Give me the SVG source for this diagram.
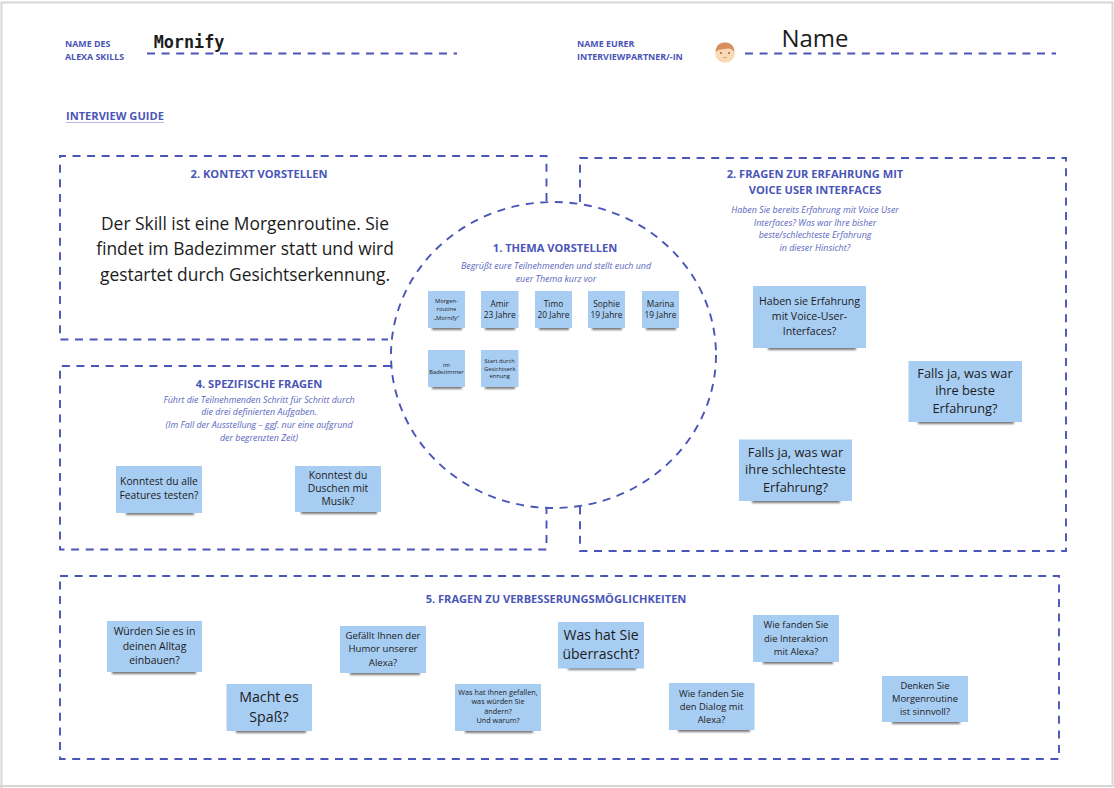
<svg xmlns="http://www.w3.org/2000/svg" width="1114" height="788" viewBox="0 0 1114 788">
<style>
text{font-family:"Open Sans","Noto Sans",sans-serif;text-anchor:middle}
.lbl{font-weight:700;font-size:8.9px;fill:#4a55b8;text-anchor:start}
.h{font-weight:700;font-size:11.1px;fill:#4a55b8}
.i{font-style:italic;font-size:8.9px;fill:#5b66c0}
.d{fill:none;stroke:#4a55b8;stroke-width:1.9;stroke-dasharray:8 6.6}
.s{fill:#a8cdf3}
.sh{fill:#333;filter:url(#b);opacity:.65}
.t{fill:#1c1c1c}
.t6{font-size:5.8px}.t7{font-size:7.3px}.t8{font-size:8.4px}.t10{font-size:10.3px}.t105{font-size:10.6px}.t12{font-size:12.8px}.t14{font-size:14.2px}
</style>
<defs><filter id="b" x="-20%" y="-100%" width="140%" height="300%"><feGaussianBlur stdDeviation="1.3"/></filter></defs>
<rect width="1114" height="788" fill="#fff"/>
<path d="M1.500 788V2.500H1112.500V786H0" fill="none" stroke="#d6d6d6" stroke-width="2"/>
<g id="outlines">
<path class="d" d="M546.500 201V156H60V339.500H388"/>
<path class="d" d="M391 366H60V549.500H546.500V507"/>
<path class="d" d="M580 202V158H1066V551H580V507"/>
<rect class="d" x="60" y="576" width="999" height="183"/>
<ellipse class="d" cx="553.500" cy="355" rx="162.500" ry="153"/>
<path class="d" d="M147 53.500H457"/>
<path class="d" d="M745 53.500H1056"/>
</g>
<g id="header-skill">
<text class="lbl" x="65" y="47">NAME DES</text>
<text class="lbl" x="65" y="60">ALEXA SKILLS</text>
<text x="189" y="48" style="font-family:'DejaVu Sans Mono',monospace;font-weight:700;font-size:16.800px" fill="#1c1c1c">Mornify</text>
</g>
<g id="header-partner">
<text class="lbl" x="577" y="47">NAME EURER</text>
<text class="lbl" x="577" y="60">INTERVIEWPARTNER/-IN</text>
<circle cx="725" cy="53" r="9.800" fill="#fbd9b5"/>
<path d="M715.600 52C716 45 720 42.600 725 42.600S734 45 734.400 52C732 49 730 48 727.500 48.500C723 49.500 719 49 715.600 52Z" fill="#d98f5c"/>
<circle cx="721" cy="53" r="1" fill="#9a6a4a"/><circle cx="729" cy="53" r="1" fill="#9a6a4a"/>
<path d="M723 57.500H727" stroke="#d9a98a" stroke-width="1"/>
<text x="815" y="47" style="font-size:24px" fill="#1c1c1c">Name</text>
</g>
<g id="guide">
<text class="h" x="66" y="120" style="text-anchor:start">INTERVIEW GUIDE</text>
<path d="M66 122.500H164" stroke="#b4b9e3" stroke-width="1"/>
</g>
<g id="kontext">
<text class="h" x="259" y="178">2. KONTEXT VORSTELLEN</text>
<g class="t" style="font-size:17.400px">
<text x="245" y="230">Der Skill ist eine Morgenroutine. Sie</text>
<text x="245" y="255">findet im Badezimmer statt und wird</text>
<text x="245" y="281">gestartet durch Gesichtserkennung.</text>
</g>
</g>
<g id="thema">
<text class="h" x="555" y="252">1. THEMA VORSTELLEN</text>
<text class="i" x="556" y="269">Begrüßt eure Teilnehmenden und stellt euch und</text>
<text class="i" x="556" y="282">euer Thema kurz vor</text>
</g>
<g id="note-morgenroutine"><rect class="sh" x="432" y="326" width="30" height="4"/><rect class="s" x="428" y="291" width="37" height="37"/>
<g class="t t6"><text x="446.500" y="303">Morgen-</text><text x="446.500" y="311">routine</text><text x="446.500" y="320">„Mornify"</text></g></g>
<g id="note-amir"><rect class="sh" x="485" y="326" width="30" height="4"/><rect class="s" x="481" y="291" width="37.500" height="37"/>
<g class="t t8"><text x="499.700" y="307">Amir</text><text x="499.700" y="318">23 Jahre</text></g></g>
<g id="note-timo"><rect class="sh" x="539" y="326" width="30" height="4"/><rect class="s" x="535" y="291" width="37" height="37"/>
<g class="t t8"><text x="553.500" y="307">Timo</text><text x="553.500" y="318">20 Jahre</text></g></g>
<g id="note-sophie"><rect class="sh" x="592" y="326" width="30" height="4"/><rect class="s" x="588" y="291" width="37" height="37"/>
<g class="t t8"><text x="606.500" y="307">Sophie</text><text x="606.500" y="318">19 Jahre</text></g></g>
<g id="note-marina"><rect class="sh" x="646" y="326" width="30" height="4"/><rect class="s" x="642" y="291" width="37" height="37"/>
<g class="t t8"><text x="660.500" y="307">Marina</text><text x="660.500" y="318">19 Jahre</text></g></g>
<g id="note-badezimmer"><rect class="sh" x="432" y="385" width="30" height="4"/><rect class="s" x="428" y="350" width="37" height="37"/>
<g class="t t6"><text x="446.500" y="367">im</text><text x="446.500" y="374">Badezimmer</text></g></g>
<g id="note-start"><rect class="sh" x="485" y="385" width="30" height="4"/><rect class="s" x="481" y="350" width="37.500" height="37"/>
<g class="t t6"><text x="499.700" y="363">Start durch</text><text x="499.700" y="371">Gesichtserk</text><text x="499.700" y="378">ennung</text></g></g>
<g id="erfahrung">
<text class="h" x="815" y="178">2. FRAGEN ZUR ERFAHRUNG MIT</text>
<text class="h" x="815" y="194">VOICE USER INTERFACES</text>
<text class="i" x="815" y="213">Haben Sie bereits Erfahrung mit Voice User</text>
<text class="i" x="815" y="226">Interfaces? Was war Ihre bisher</text>
<text class="i" x="815" y="238">beste/schlechteste Erfahrung</text>
<text class="i" x="815" y="251">in dieser Hinsicht?</text>
</g>
<g id="note-haben"><rect class="sh" x="768" y="346" width="88" height="4"/><rect class="s" x="753" y="286" width="113" height="62"/>
<g class="t t105"><text x="809.500" y="305">Haben sie Erfahrung</text><text x="809.500" y="320">mit Voice-User-</text><text x="809.500" y="335">Interfaces?</text></g></g>
<g id="note-beste"><rect class="sh" x="918" y="420" width="96" height="4"/><rect class="s" x="908.500" y="361" width="113.500" height="61"/>
<g class="t t12"><text x="965" y="378">Falls ja, was war</text><text x="965" y="395">ihre beste</text><text x="965" y="413">Erfahrung?</text></g></g>
<g id="note-schlechteste"><rect class="sh" x="752" y="499" width="88" height="4"/><rect class="s" x="739" y="439.500" width="113" height="61.500"/>
<g class="t t12"><text x="795.500" y="457">Falls ja, was war</text><text x="795.500" y="474">ihre schlechteste</text><text x="795.500" y="492">Erfahrung?</text></g></g>
<g id="spezifisch">
<text class="h" x="259" y="388">4. SPEZIFISCHE FRAGEN</text>
<text class="i" x="259" y="403">Führt die Teilnehmenden Schritt für Schritt durch</text>
<text class="i" x="259" y="415">die drei definierten Aufgaben.</text>
<text class="i" x="259" y="428">(Im Fall der Ausstellung – ggf. nur eine aufgrund</text>
<text class="i" x="259" y="441">der begrenzten Zeit)</text>
</g>
<g id="note-features"><rect class="sh" x="126" y="511" width="68" height="4"/><rect class="s" x="116" y="466" width="86" height="47"/>
<g class="t t10"><text x="159" y="485">Konntest du alle</text><text x="159" y="499">Features testen?</text></g></g>
<g id="note-duschen"><rect class="sh" x="301" y="510" width="76" height="4"/><rect class="s" x="295" y="466" width="86" height="46"/>
<g class="t t10"><text x="338" y="479">Konntest du</text><text x="338" y="492">Duschen mit</text><text x="338" y="505">Musik?</text></g></g>
<g id="verbesserung">
<text class="h" x="556" y="603">5. FRAGEN ZU VERBESSERUNGSMÖGLICHKEITEN</text>
</g>
<g id="note-alltag"><rect class="sh" x="112" y="670" width="84" height="4"/><rect class="s" x="107" y="621" width="95" height="51"/>
<g class="t" style="font-size:10.500px"><text x="154.500" y="635">Würden Sie es in</text><text x="154.500" y="650">deinen Alltag</text><text x="154.500" y="664">einbauen?</text></g></g>
<g id="note-spass"><rect class="sh" x="236" y="729" width="70" height="4"/><rect class="s" x="226.500" y="684" width="85.500" height="47"/>
<g class="t t14"><text x="269" y="702">Macht es</text><text x="269" y="722">Spaß?</text></g></g>
<g id="note-humor"><rect class="sh" x="350" y="671" width="70" height="4"/><rect class="s" x="340" y="626" width="86" height="47"/>
<g class="t" style="font-size:9.600px"><text x="383" y="639">Gefällt Ihnen der</text><text x="383" y="652">Humor unserer</text><text x="383" y="666">Alexa?</text></g></g>
<g id="note-gefallen"><rect class="sh" x="465" y="729" width="68" height="4"/><rect class="s" x="455" y="684" width="86" height="47"/>
<g class="t t7"><text x="498" y="694.500">Was hat Ihnen gefallen,</text><text x="498" y="704">was würden Sie</text><text x="498" y="713.500">ändern?</text><text x="498" y="723">Und warum?</text></g></g>
<g id="note-ueberrascht"><rect class="sh" x="568" y="666" width="68" height="4"/><rect class="s" x="558" y="622" width="86" height="46.500"/>
<g class="t" style="font-size:14px"><text x="601" y="640">Was hat Sie</text><text x="601" y="659">überrascht?</text></g></g>
<g id="note-interaktion"><rect class="sh" x="763" y="660" width="70" height="4"/><rect class="s" x="753" y="615" width="86" height="47"/>
<g class="t" style="font-size:9.400px"><text x="796" y="628">Wie fanden Sie</text><text x="796" y="642">die Interaktion</text><text x="796" y="655">mit Alexa?</text></g></g>
<g id="note-dialog"><rect class="sh" x="678" y="728" width="72" height="4"/><rect class="s" x="669" y="683" width="85.500" height="47"/>
<g class="t" style="font-size:9.400px"><text x="711.500" y="697">Wie fanden Sie</text><text x="711.500" y="710">den Dialog mit</text><text x="711.500" y="723">Alexa?</text></g></g>
<g id="note-morgen"><rect class="sh" x="892" y="720" width="68" height="4"/><rect class="s" x="882" y="676" width="86" height="46"/>
<g class="t" style="font-size:9.400px"><text x="925" y="689">Denken Sie</text><text x="925" y="702">Morgenroutine</text><text x="925" y="715">ist sinnvoll?</text></g></g>
</svg>
